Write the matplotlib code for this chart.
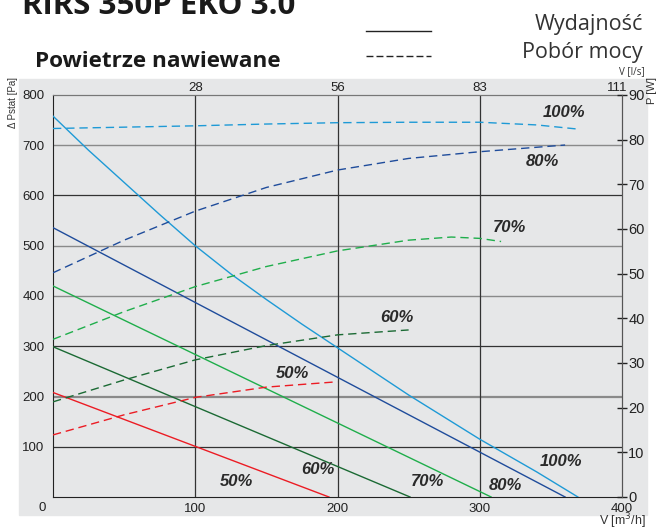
import matplotlib.pyplot as plt
import matplotlib.transforms as mtransforms
from matplotlib.patches import Rectangle

# --- dane ---
# krzywe wydajnosci: V [m3/h] -> dP [Pa]
v_100 = [0, 25, 50, 75, 100, 125, 150, 175, 200, 250, 300, 340, 369]
p_100 = [758, 690, 626, 562, 500, 444, 393, 344, 297, 203, 115, 50, 0]
v_80 = [0, 360]
p_80 = [536, 0]
v_70 = [0, 308]
p_70 = [420, 0]
v_60 = [0, 251]
p_60 = [299, 0]
v_50 = [0, 194]
p_50 = [208, 0]

# pobor mocy: V [m3/h] -> P [W]
vw_100 = [0, 50, 100, 150, 200, 250, 300, 340, 368]
w_100 = [82.5, 82.8, 83.1, 83.5, 83.8, 83.9, 83.9, 83.3, 82.4]
vw_80 = [0, 50, 100, 150, 200, 250, 300, 360]
w_80 = [50.2, 57.5, 64.0, 69.3, 73.2, 75.8, 77.3, 78.8]
vw_70 = [0, 50, 100, 150, 200, 250, 280, 300, 315]
w_70 = [35.3, 41.5, 47.1, 51.6, 55.1, 57.5, 58.2, 57.9, 57.2]
vw_60 = [0, 50, 100, 150, 200, 250]
w_60 = [21.3, 26.2, 30.7, 33.9, 36.3, 37.4]
vw_50 = [0, 50, 100, 150, 200]
w_50 = [13.9, 18.4, 22.3, 24.6, 25.8]

x_ticks = [100, 200, 300, 400]
top_labels = ['28', '56', '83', '111']
y_ticks = [100, 200, 300, 400, 500, 600, 700, 800]
w_ticks = [0, 10, 20, 30, 40, 50, 60, 70, 80, 90]

pct_labels = ['100%', '80%', '70%', '60%', '50%']

# kolory
c100, c80, c70, c60, c50 = '#1e9ad6', '#1f4c9b', '#1fae4b', '#1b6a34', '#ec1c24'
bg = '#e6e7e8'

W, H = 662, 527
def fx(px):
    return px / W
def fy(py):
    return 1 - py / H

fig = plt.figure(figsize=(6.62, 5.27), dpi=100)
fig.patches.append(Rectangle((fx(19), fy(515)), 628 / W, 436 / H,
                             transform=fig.transFigure, color=bg, zorder=-5))

ax = fig.add_axes([fx(53), fy(497), (622 - 53) / W, (497 - 95) / H])
ax.set_facecolor(bg)
ax.set_xlim(0, 400)
ax.set_ylim(0, 800)

# siatka
for yv in [100, 300, 600]:
    ax.axhline(yv, color='#333333', lw=0.9, zorder=1)
for yv in [400, 500, 700]:
    ax.axhline(yv, color='#8a8a8a', lw=1.0, zorder=1)
ax.axhline(200, color='#8a8a8a', lw=1.6, zorder=1)
for xv in [100, 200, 300]:
    ax.axvline(xv, color='#333333', lw=0.9, zorder=1)

# krzywe wydajnosci
for v, p, c in [(v_100, p_100, c100), (v_80, p_80, c80), (v_70, p_70, c70),
                (v_60, p_60, c60), (v_50, p_50, c50)]:
    ax.plot(v, p, color=c, lw=1.0, zorder=3)

# pobor mocy (os prawa)
ax2 = ax.twinx()
ax2.set_ylim(0, 90)
for v, w, c in [(vw_100, w_100, c100), (vw_80, w_80, c80), (vw_70, w_70, c70),
                (vw_60, w_60, c60), (vw_50, w_50, c50)]:
    ax2.plot(v, w, color=c, lw=1.0, dashes=(6, 3.5), zorder=3)

# etykiety procentowe
lab_kw = dict(fontsize=12, fontweight='bold', fontstyle='italic',
              color='#2a2a2a', ha='center', va='center',
              family='Liberation Sans', zorder=5)
for txt, (x, y) in zip(pct_labels, [(359, 766), (344, 667), (321, 537),
                                    (242, 358), (168, 246)]):
    ax.text(x, y, txt, **lab_kw)
for txt, (x, y) in zip(pct_labels, [(357, 70), (318, 22), (263, 31),
                                    (186, 54), (129, 31)]):
    ax.text(x, y, txt, **lab_kw)

# osie
tick_font = dict(family='Liberation Sans', size=9.5)
ax.set_xticks(x_ticks)
ax.set_xticklabels([str(t) for t in x_ticks], fontdict=tick_font, color='#222222')
ax.set_yticks(y_ticks)
ax.set_yticklabels([str(t) for t in y_ticks], fontdict=tick_font, color='#222222')
ax.tick_params(axis='x', length=0, pad=4)
ax.tick_params(axis='y', length=0, pad=6)
for s in ['left', 'bottom']:
    ax.spines[s].set_color('#222222')
ax.spines['top'].set_color('#777777')
ax.spines['right'].set_color('#555555')

ax2.set_yticks(w_ticks)
ax2.set_yticklabels([str(t) for t in w_ticks], fontdict=dict(family='Liberation Sans', size=10.5),
                    color='#222222')
ax2.tick_params(axis='y', direction='inout', length=7, width=1, color='#222222', pad=1)
for s in ['left', 'bottom', 'top']:
    ax2.spines[s].set_visible(False)
ax2.spines['right'].set_color('#555555')

sec = ax.secondary_xaxis('top')
sec.set_xticks(x_ticks)
sec.set_xticklabels(top_labels, fontdict=tick_font, color='#222222')
sec.tick_params(length=0, pad=1)
sec.spines['top'].set_color('#777777')
# "111" lekko w lewo, zeby nie nachodzilo na "90"
last = sec.get_xticklabels()[-1]
last.set_transform(last.get_transform() + mtransforms.ScaledTranslation(-0.05, 0, fig.dpi_scale_trans))

# opisy osi
fig.text(fx(41.7), fy(508), '0', ha='center', va='center', color='#222222', **tick_font)
fig.text(fx(12.5), fy(102), 'Δ Pstat [Pa]', rotation=90, ha='center', va='center',
         family='Liberation Sans', size=7, color='#333333')
fig.text(fx(652), fy(90), 'P [W]', rotation=90, ha='center', va='center',
         family='Liberation Sans', size=8, color='#333333')
fig.text(fx(645), fy(72), 'V [l/s]', ha='right', va='center',
         family='Open Sans', size=7, color='#333333')
fig.text(fx(646), fy(521), 'V [m$^3$/h]', ha='right', va='center',
         family='Liberation Sans', size=9, color='#333333')

# naglowek
fig.text(fx(22), fy(14), 'RIRS 350P EKO 3.0', ha='left', va='baseline',
         family='Open Sans', fontweight='bold', size=22.5, color='#1a1a1a')
fig.text(fx(35), fy(67), 'Powietrze nawiewane', ha='left', va='baseline',
         family='Open Sans', fontweight='bold', size=16.2, color='#1a1a1a')
fig.text(fx(643), fy(30), 'Wydajność', ha='right', va='baseline',
         family='Open Sans', size=15.5, color='#333333')
fig.text(fx(643), fy(58), 'Pobór mocy', ha='right', va='baseline',
         family='Open Sans', size=15.5, color='#333333')
fig.add_artist(plt.Line2D([fx(366), fx(431)], [fy(31), fy(31)], color='#222222', lw=1.0))
fig.add_artist(plt.Line2D([fx(366), fx(431)], [fy(56), fy(56)], color='#222222', lw=1.0,
                          dashes=(5, 2.2)))

fig.savefig('out.png', dpi=100)
